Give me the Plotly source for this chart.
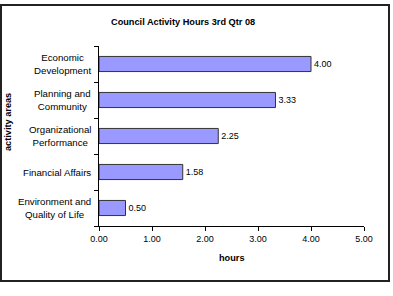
import plotly.graph_objects as go

categories = ["Economic<br>Development", "Planning and<br>Community", "Organizational<br>Performance",
              "Financial Affairs", "Environment and<br>Quality of Life"]
hours = [4.00, 3.33, 2.25, 1.58, 0.50]
x_ticks = [0, 1, 2, 3, 4, 5]

W, H = 393, 296
L, R, T, B = 99, 29, 46, 70
pw, ph = W - L - R, H - T - B

def px_x(p):
    return (p - L) / pw

def px_y(p):
    return (H - B - p) / ph

FONT = "Liberation Sans, Arial, sans-serif"

fig = go.Figure(go.Bar(
    x=hours, y=categories, orientation="h",
    marker=dict(color="#9999FF", line=dict(color="#333333", width=1)),
    width=0.42,
    text=[f"{v:.2f}" for v in hours], textposition="outside",
    textfont=dict(size=9, color="#000000", family=FONT),
    cliponaxis=False,
))

annotations = []
for c in categories:
    annotations.append(dict(text=c, x=px_x(93), xref="paper", y=c, yref="y",
                            xanchor="right", yanchor="middle", align="center",
                            showarrow=False, font=dict(size=9.7, family=FONT, color="#000")))
annotations.append(dict(text="<b>Council Activity Hours 3rd Qtr 08</b>", x=px_x(183), y=px_y(22),
                        xref="paper", yref="paper", showarrow=False, xanchor="center", yanchor="middle",
                        font=dict(size=9.2, family=FONT, color="#000")))
annotations.append(dict(text="<b>hours</b>", x=px_x(232), y=px_y(258),
                        xref="paper", yref="paper", showarrow=False, xanchor="center", yanchor="middle",
                        font=dict(size=9.2, family=FONT, color="#000")))
annotations.append(dict(text="<b>activity areas</b>", x=px_x(8), y=px_y(122), textangle=-90,
                        xref="paper", yref="paper", showarrow=False, xanchor="center", yanchor="middle",
                        font=dict(size=9.2, family=FONT, color="#000")))

fig.update_layout(
    width=W, height=H,
    margin=dict(l=L, r=R, t=T, b=B),
    paper_bgcolor="#FFFFFF", plot_bgcolor="#FFFFFF",
    showlegend=False,
    font=dict(family=FONT, size=9, color="#000"),
    xaxis=dict(range=[0, 5], tickvals=x_ticks, tickformat=".2f", ticks="outside", ticklen=4,
               tickcolor="#000", showline=True, linecolor="#000", linewidth=1, showgrid=False,
               zeroline=False, tickfont=dict(size=9, family=FONT, color="#000")),
    yaxis=dict(type="category", categoryorder="array", categoryarray=categories[::-1],
               tickson="boundaries", ticks="outside", ticklen=4, tickcolor="#000",
               showticklabels=False, showline=True, linecolor="#000", linewidth=1,
               showgrid=False, zeroline=False),
    annotations=annotations,
    shapes=[dict(type="rect", xref="paper", yref="paper",
                 x0=px_x(1), x1=px_x(389), y0=px_y(281), y1=px_y(5),
                 line=dict(color="#222222", width=2))],
)

fig.write_html("out.html", config={"displayModeBar": False},
               post_script="document.body.style.margin='0';document.body.style.overflow='hidden';")
